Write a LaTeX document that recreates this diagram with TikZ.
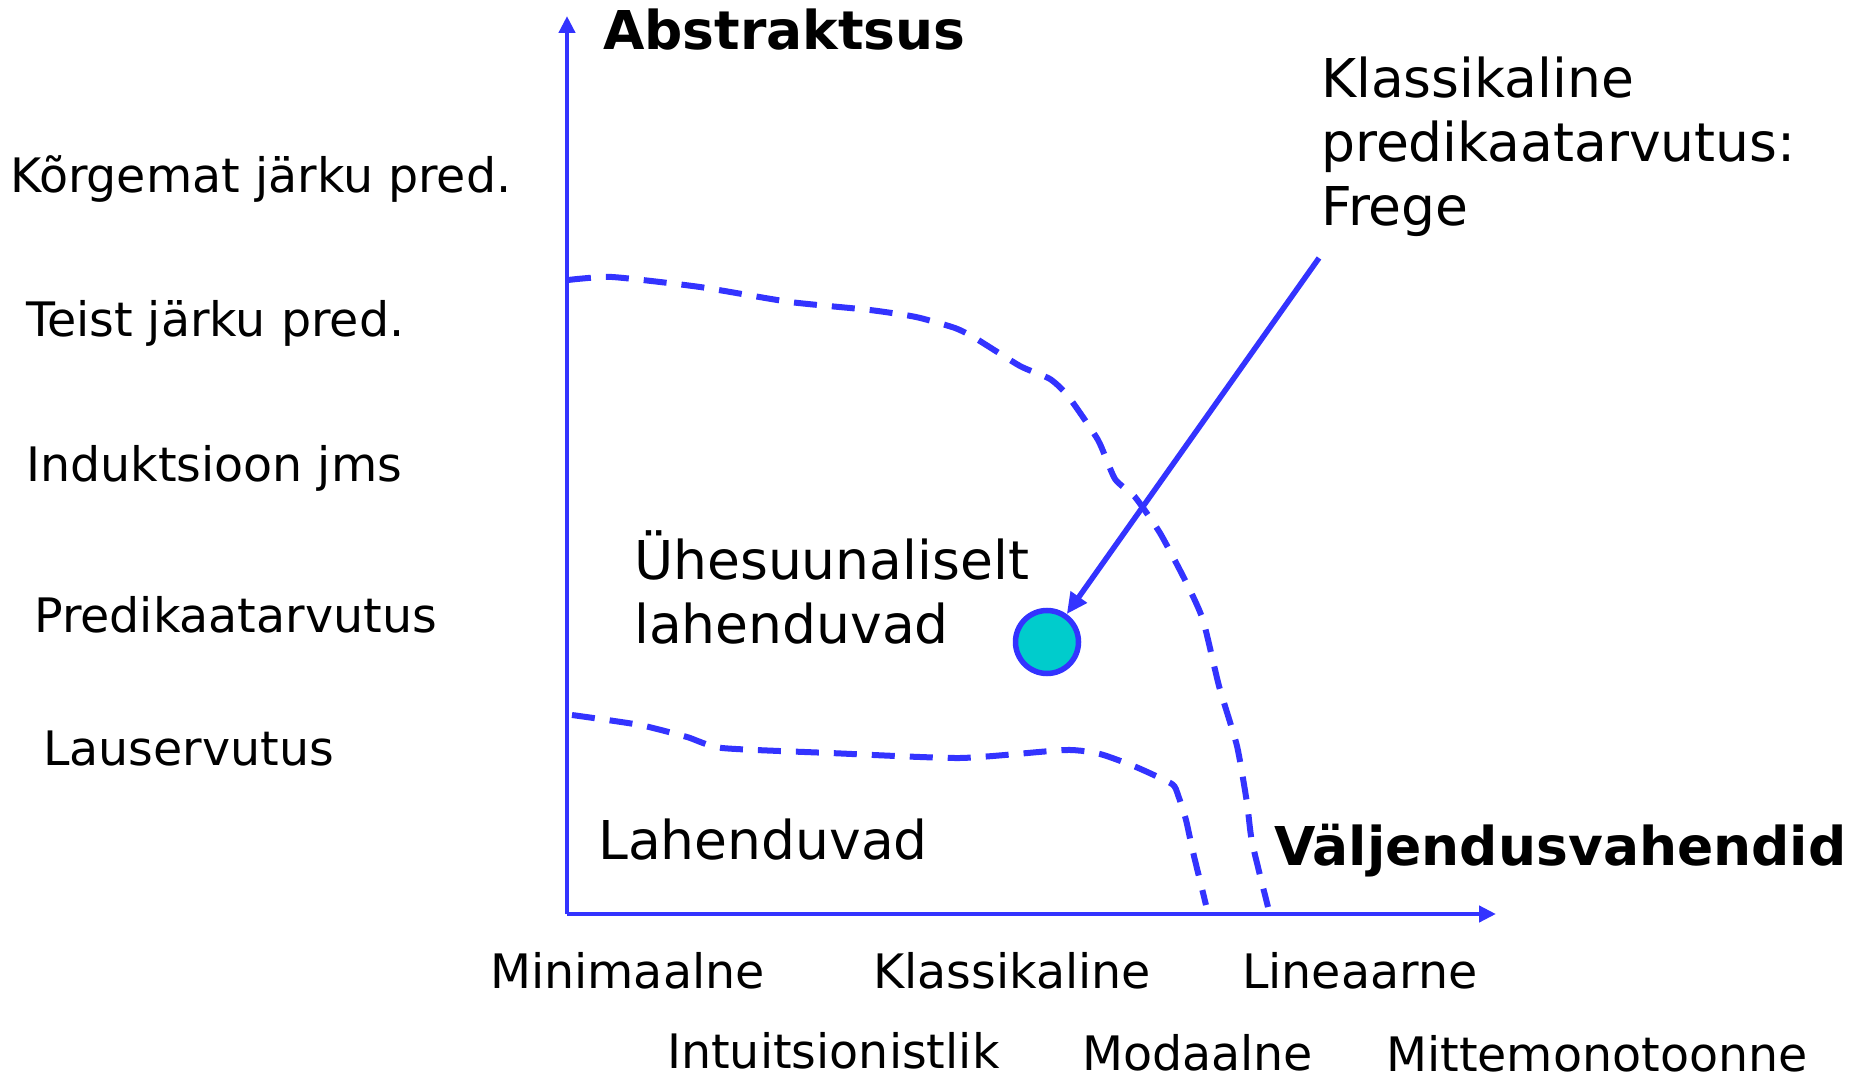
\documentclass[tikz,border=0pt]{standalone}
\usepackage{fontspec}
\setmainfont{DejaVu Sans}
\usetikzlibrary{arrows.meta}
\definecolor{axisblue}{HTML}{3333FF}
\definecolor{dotcyan}{HTML}{00CCCC}
\tikzset{
    axis/.style={draw=axisblue, line width=4.5pt, -{Triangle[length=17pt,width=16pt]}},
    pointer/.style={draw=axisblue, line width=5.5pt, -{Triangle[length=21pt,width=19pt]}},
    border/.style={draw=axisblue, line width=6pt, dash pattern=on 23pt off 15pt},
    biglbl/.style={inner sep=0pt, anchor=base west, align=left, font=\fontsize{53.5}{64}\selectfont},
    boldlbl/.style={biglbl, font=\fontsize{53.5}{64}\selectfont\bfseries},
    lbl/.style={inner sep=0pt, anchor=base west, font=\fontsize{47.5}{56}\selectfont},
    dot/.style={circle, draw=axisblue, line width=5.5pt, fill=dotcyan, minimum size=63pt, inner sep=0pt}
}
\begin{document}
\begin{tikzpicture}[x=1pt,y=-1pt]
\useasboundingbox (0,0) rectangle (1856,1075);
\coordinate (origin) at (567,914);
\coordinate (ytip) at (567,16);
\coordinate (xtip) at (1496,914);
\draw[axis] (origin) -- (ytip);
\draw[axis] (origin) -- (xtip);

\draw[border] plot[smooth, tension=0.35] coordinates {(568,280) (612,277) (700,287) (790,302)
    (870,310) (916,317) (955,328) (975,338) (1020,366) (1050,379) (1068,396) (1098,440)
    (1115,479) (1135,497) (1160,533) (1186,582) (1203,620) (1219,686) (1237,746) (1247,803)
    (1252,842) (1268,907)};
\draw[border] plot[smooth, tension=0.35] coordinates {(572,715) (640,725) (687,737) (722,748)
    (830,753) (960,758) (1065,750) (1100,754) (1136,767) (1172,784) (1178,795) (1186,820)
    (1193,852) (1206,905)};

\node[boldlbl] (abstr) at (603,50) {Abstraktsus};
\node[boldlbl] (valj) at (1274,865) {Väljendusvahendid};
\node[lbl] (korg) at (10,193) {Kõrgemat järku pred.};
\node[lbl] (teist) at (26,337) {Teist järku pred.};
\node[lbl] (induk) at (26,481) {Induktsioon jms};
\node[lbl] (predik) at (34,632) {Predikaatarvutus};
\node[lbl] (lause) at (43,765) {Lauservutus};
\node[lbl] (minim) at (490,988) {Minimaalne};
\node[lbl] (klass) at (873,988) {Klassikaline};
\node[lbl] (linea) at (1242,988) {Lineaarne};
\node[lbl] (intu) at (667,1068) {Intuitsionistlik};
\node[lbl] (moda) at (1082,1070) {Modaalne};
\node[lbl] (mitte) at (1386,1071) {Mittemonotoonne};
\node[biglbl] (ylahend) at (634,643) {Ühesuunaliselt\\lahenduvad};
\node[biglbl] (lahend) at (598,859) {Lahenduvad};
\node[biglbl] (frege) at (1321,226) {Klassikaline\\predikaatarvutus:\\Frege};

\node[dot] (klpred) at (1047,642) {};
\coordinate (fregefoot) at (1319,258);
\draw[pointer] (fregefoot) -- (klpred);
\end{tikzpicture}
\end{document}
